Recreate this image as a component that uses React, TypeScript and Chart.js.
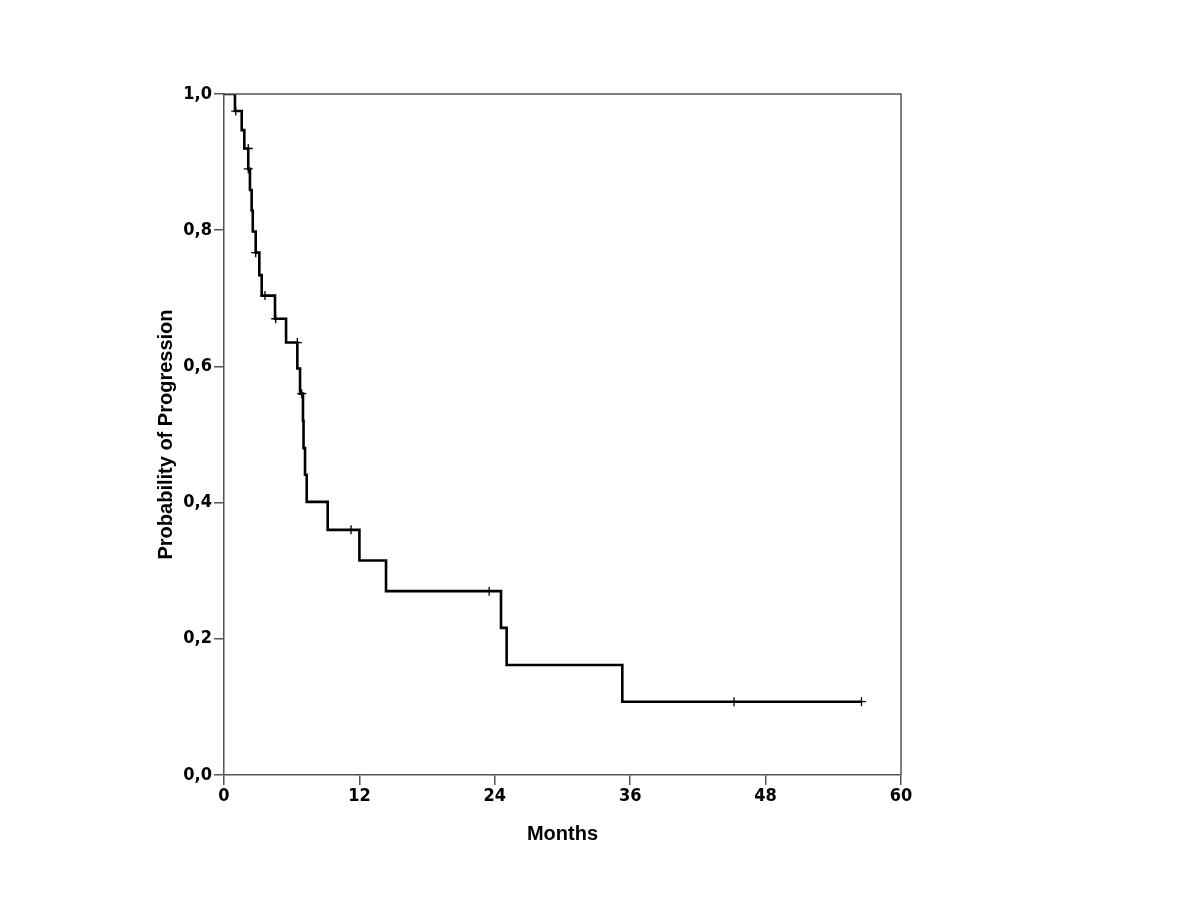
import React, { useEffect, useRef } from "react";
import { Chart, registerables } from "chart.js";

Chart.register(...registerables);

// Kaplan-Meier step curve: time (months) at which the probability drops to the value
const stepMonths = [0, 0.97, 1.57, 1.8, 2.15, 2.3, 2.45, 2.55, 2.81, 3.13, 3.34, 4.52, 5.5, 6.5, 6.74, 6.89, 7.0, 7.05, 7.18, 7.33, 9.19, 12.0, 14.36, 24.55, 25.05, 35.3, 56.5];
const stepProb = [1.0, 0.975, 0.947, 0.92, 0.89, 0.859, 0.829, 0.798, 0.767, 0.734, 0.704, 0.67, 0.635, 0.597, 0.56, 0.56, 0.52, 0.48, 0.441, 0.401, 0.36, 0.315, 0.27, 0.216, 0.1615, 0.1076, 0.1076];

// censored observations
const censorMonths = [1.04, 2.15, 2.15, 2.81, 3.63, 4.58, 6.5, 6.89, 11.26, 23.5, 45.2, 56.5];
const censorProb = [0.975, 0.92, 0.89, 0.767, 0.704, 0.67, 0.635, 0.56, 0.36, 0.27, 0.1076, 0.1076];

const xTicks = [0, 12, 24, 36, 48, 60];
const yTicks = [0, 0.2, 0.4, 0.6, 0.8, 1.0];

const xTitle = "Months";
const yTitle = "Probability of Progression";

const tickFont = "'Liberation Sans Narrow', 'DejaVu Sans Condensed', 'Liberation Sans', sans-serif";
const titleFont = "'Liberation Sans', Arial, sans-serif";
const frameColor = "#555555";

export default function App() {
  const ref = useRef<HTMLCanvasElement | null>(null);

  useEffect(() => {
    if (!ref.current) return;
    const framePlugin = {
      id: "frame",
      afterDatasetsDraw(chart: any) {
        const { ctx, chartArea } = chart;
        ctx.save();
        ctx.strokeStyle = frameColor;
        ctx.lineWidth = 1.5;
        ctx.beginPath();
        ctx.moveTo(chartArea.left, chartArea.top);
        ctx.lineTo(chartArea.right, chartArea.top);
        ctx.lineTo(chartArea.right, chartArea.bottom);
        ctx.stroke();
        ctx.restore();
      },
    };
    const chart = new Chart(ref.current, {
      type: "line",
      data: {
        datasets: [
          {
            label: "Survival",
            data: stepMonths.map((m, i) => ({ x: m, y: stepProb[i] })),
            stepped: "before",
            borderColor: "#000000",
            borderWidth: 2.6,
            pointRadius: 0,
            fill: false,
            order: 2,
          },
          {
            label: "Censored",
            type: "scatter",
            data: censorMonths.map((m, i) => ({ x: m, y: censorProb[i] })),
            pointStyle: "cross",
            pointRadius: 4.5,
            borderColor: "#000000",
            borderWidth: 1.3,
            backgroundColor: "#000000",
            showLine: false,
            order: 1,
          } as any,
        ],
      },
      options: {
        animation: false,
        responsive: false,
        maintainAspectRatio: false,
        layout: { padding: { left: 154, top: 94, right: 299, bottom: 35 } },
        plugins: {
          legend: { display: false },
          tooltip: { enabled: false },
        },
        scales: {
          x: {
            type: "linear",
            min: 0,
            max: 60,
            afterFit: (s: any) => {
              s.height = 90;
            },
            afterBuildTicks: (s: any) => {
              s.ticks = xTicks.map((v) => ({ value: v }));
            },
            ticks: {
              padding: 1,
              color: "#000000",
              font: { family: tickFont, size: 18, weight: "bold" },
              callback: (v: any) => String(v),
            },
            grid: {
              drawOnChartArea: false,
              drawTicks: true,
              tickLength: 10,
              color: frameColor,
              lineWidth: 1.5,
            },
            border: { display: true, color: frameColor, width: 1.5 },
            title: {
              display: true,
              text: xTitle,
              color: "#000000",
              font: { family: titleFont, size: 20, weight: "bold" },
              padding: { top: 0, bottom: 19 },
            },
          },
          y: {
            type: "linear",
            min: 0,
            max: 1,
            afterFit: (s: any) => {
              s.width = 70;
            },
            afterBuildTicks: (s: any) => {
              s.ticks = yTicks.map((v) => ({ value: v }));
            },
            ticks: {
              padding: 2,
              color: "#000000",
              font: { family: tickFont, size: 18, weight: "bold" },
              callback: (v: any) => Number(v).toFixed(1).replace(".", ","),
            },
            grid: {
              drawOnChartArea: false,
              drawTicks: true,
              tickLength: 10,
              color: frameColor,
              lineWidth: 1.5,
            },
            border: { display: true, color: frameColor, width: 1.5 },
            title: {
              display: true,
              text: yTitle,
              color: "#000000",
              font: { family: titleFont, size: 20, weight: "bold" },
              padding: { top: 0, bottom: 0 },
            },
          },
        },
      },
      plugins: [framePlugin],
    });
    return () => chart.destroy();
  }, []);

  return (
    <div style={{ position: "absolute", left: 0, top: 0, width: 1200, height: 900, background: "#ffffff" }}>
      <canvas ref={ref} width={1200} height={900} style={{ display: "block", width: 1200, height: 900 }} />
    </div>
  );
}
